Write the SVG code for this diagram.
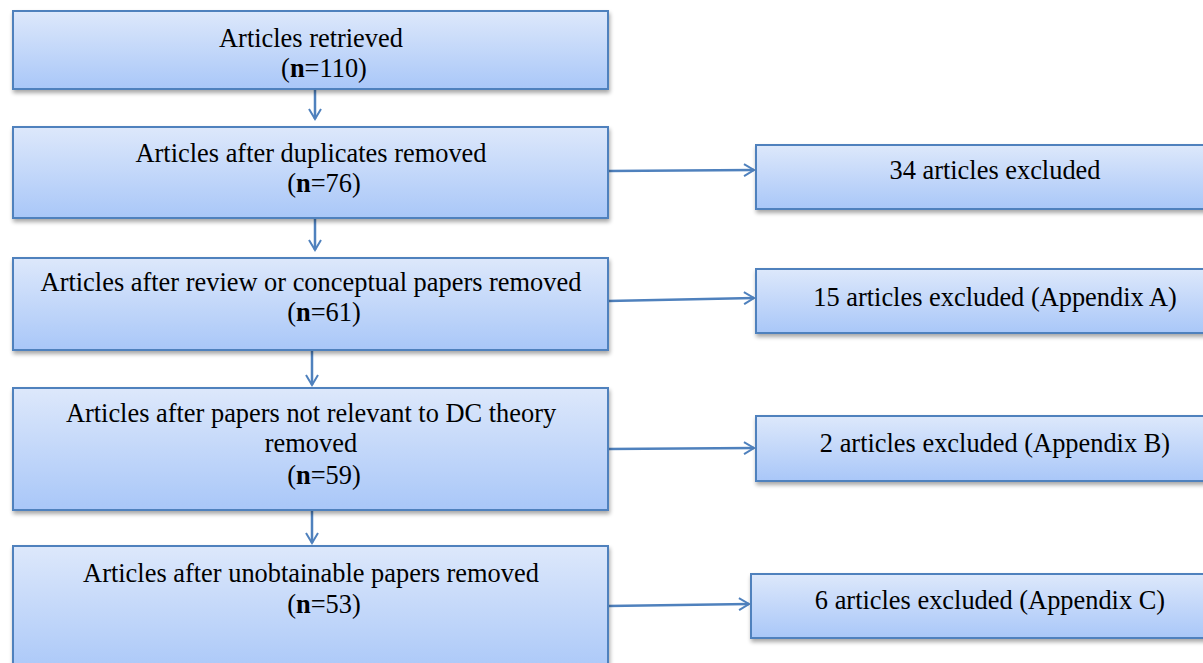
<svg xmlns="http://www.w3.org/2000/svg" width="1203" height="663" viewBox="0 0 1203 663">
<defs>
<linearGradient id="g" x1="0" y1="0" x2="0" y2="1">
<stop offset="0" stop-color="#dde8fb"/>
<stop offset="1" stop-color="#a9c7f8"/>
</linearGradient>
<filter id="sh" x="-5%" y="-10%" width="110%" height="130%">
<feGaussianBlur in="SourceAlpha" stdDeviation="2"/>
<feOffset dx="1" dy="3" result="b"/>
<feComponentTransfer><feFuncA type="linear" slope="0.35"/></feComponentTransfer>
<feMerge><feMergeNode/><feMergeNode in="SourceGraphic"/></feMerge>
</filter>
<marker id="ah" markerWidth="14" markerHeight="14" refX="12" refY="7" orient="auto" markerUnits="userSpaceOnUse">
<path d="M2,1 L12,7 L2,13" fill="none" stroke="#4f81bd" stroke-width="2"/>
</marker>
</defs>
<style>
.box{fill:url(#g);stroke:#4f81bd;stroke-width:2;filter:url(#sh)}
text{font-family:"Liberation Serif","Times New Roman",serif;font-size:26.4px;fill:#000;text-anchor:middle}
.c{stroke:#4f81bd;stroke-width:2.5;fill:none;marker-end:url(#ah)}
</style>
<rect width="1203" height="663" fill="#fff"/>
<g id="connectors">
<line class="c" x1="315" y1="89" x2="315" y2="119"/>
<line class="c" x1="315" y1="218" x2="315" y2="250"/>
<line class="c" x1="312" y1="350" x2="312" y2="385"/>
<line class="c" x1="312" y1="510" x2="312" y2="543"/>
<line class="c" x1="608" y1="171" x2="754" y2="170"/>
<line class="c" x1="608" y1="301" x2="754" y2="298"/>
<line class="c" x1="608" y1="449" x2="754" y2="448"/>
<line class="c" x1="608" y1="606" x2="749" y2="604"/>
</g>
<g id="n1"><rect class="box" x="13" y="11" width="595" height="78"/>
<text x="311" y="47">Articles retrieved</text><text x="324" y="77">(<tspan font-weight="bold">n</tspan>=110)</text></g>
<g id="n2"><rect class="box" x="13" y="127" width="595" height="91"/>
<text x="311" y="162">Articles after duplicates removed</text><text x="324" y="192">(<tspan font-weight="bold">n</tspan>=76)</text></g>
<g id="n3"><rect class="box" x="13" y="258" width="595" height="92"/>
<text x="311" y="291">Articles after review or conceptual papers removed</text><text x="324" y="321">(<tspan font-weight="bold">n</tspan>=61)</text></g>
<g id="n4"><rect class="box" x="13" y="388" width="595" height="122"/>
<text x="311" y="422">Articles after papers not relevant to DC theory</text><text x="311" y="452">removed</text><text x="324" y="484">(<tspan font-weight="bold">n</tspan>=59)</text></g>
<g id="n5"><rect class="box" x="13" y="546" width="595" height="130"/>
<text x="311" y="582">Articles after unobtainable papers removed</text><text x="324" y="613">(<tspan font-weight="bold">n</tspan>=53)</text></g>
<g id="r1"><rect class="box" x="756" y="145" width="460" height="64"/>
<text x="995" y="179">34 articles excluded</text></g>
<g id="r2"><rect class="box" x="756" y="269" width="460" height="64"/>
<text x="995" y="306">15 articles excluded (Appendix A)</text></g>
<g id="r3"><rect class="box" x="756" y="416" width="460" height="65"/>
<text x="995" y="452">2 articles excluded (Appendix B)</text></g>
<g id="r4"><rect class="box" x="751" y="574" width="465" height="64"/>
<text x="990" y="609">6 articles excluded (Appendix C)</text></g>
</svg>
